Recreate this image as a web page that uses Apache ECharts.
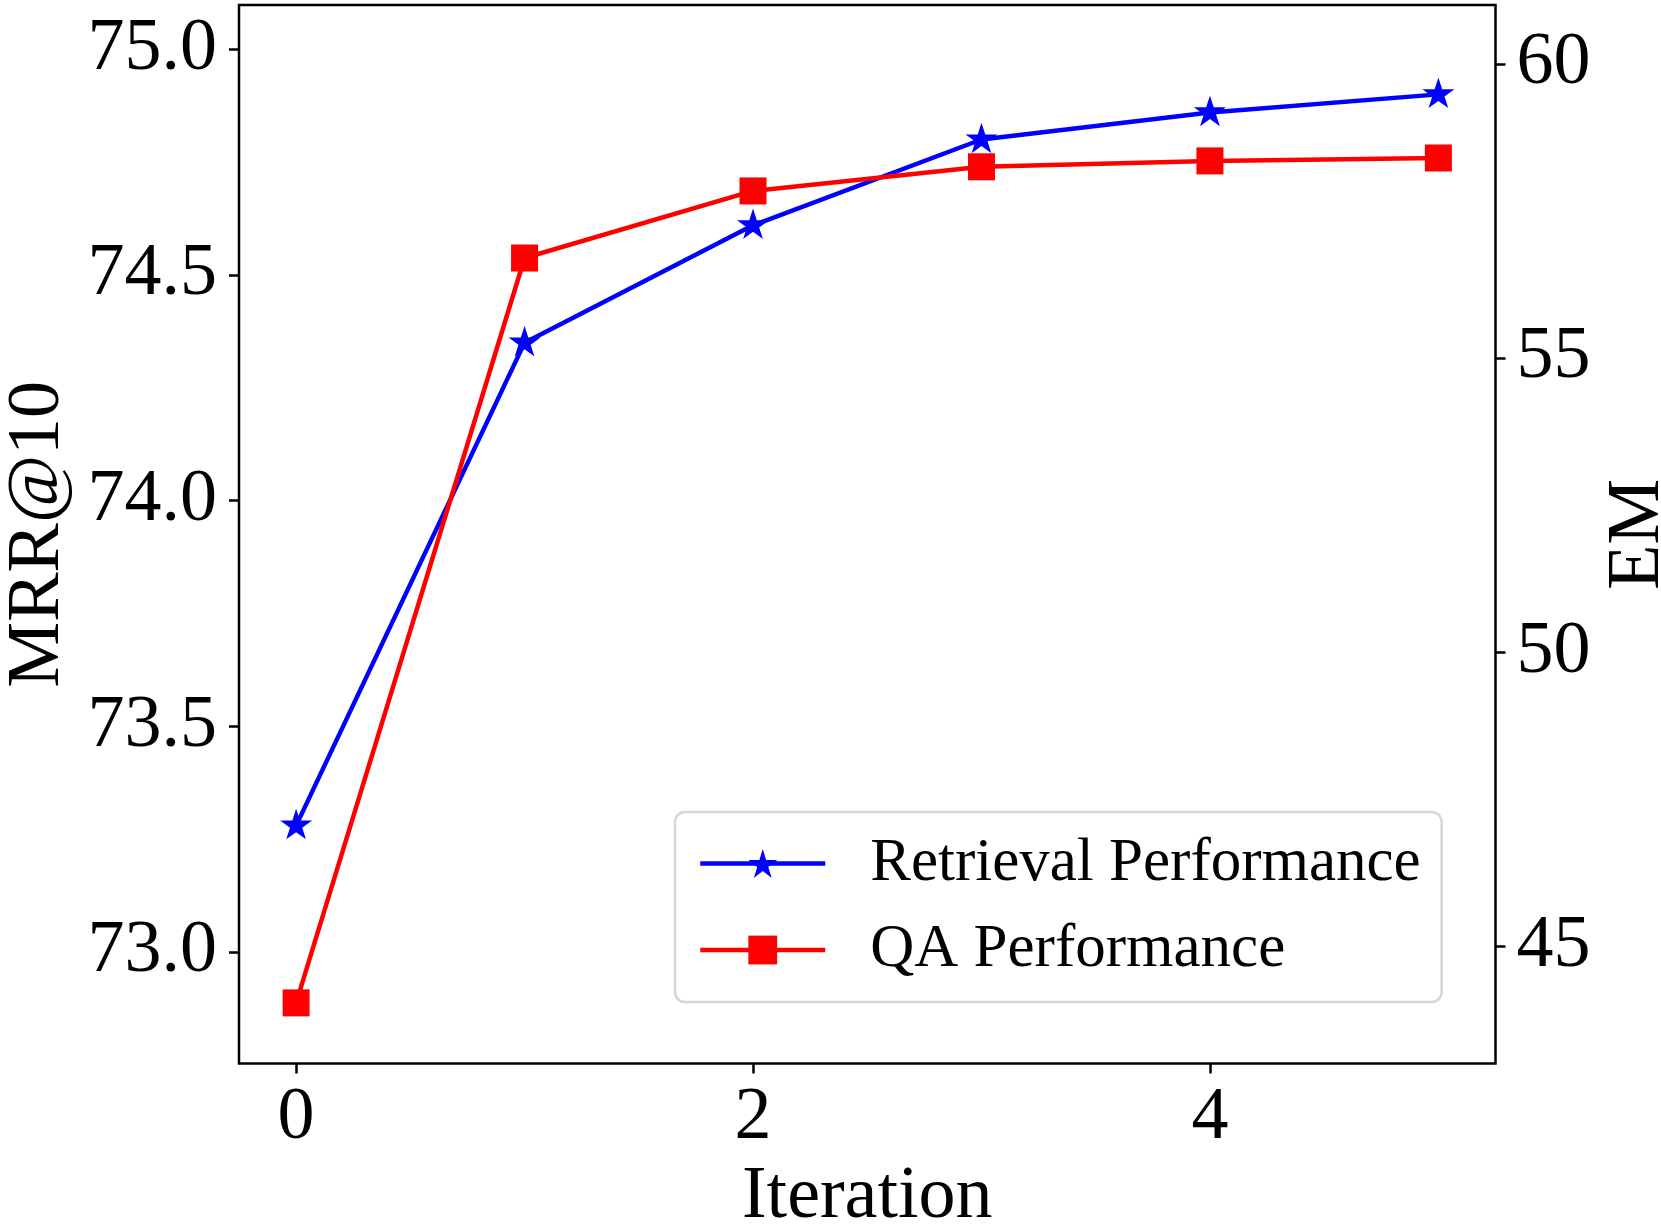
<!DOCTYPE html>
<html>
<head>
<meta charset="utf-8">
<script src="https://cdn.jsdelivr.net/npm/echarts@6/dist/echarts.min.js"></script>
<style>
  html, body { margin: 0; padding: 0; background: #fff; }
  #chart { width: 1661px; height: 1225px; }
</style>
</head>
<body>
<div id="chart"></div>
<script>
// ---- data ----
const iterations = [0, 1, 2, 3, 4, 5];
const retrievalMRR = [73.28, 74.35, 74.61, 74.80, 74.86, 74.90];
const qaEM = [44.04, 56.70, 57.84, 58.25, 58.35, 58.40];
const xTicks = [0, 2, 4];
const leftTicks = [73.0, 73.5, 74.0, 74.5, 75.0];
const rightTicks = [45, 50, 55, 60];
const seriesNames = ['Retrieval Performance', 'QA Performance'];

const FONT = '"Liberation Serif", "Times New Roman", serif';
const starPath = 'path://M100,0 L122.45,69.1 L195.11,69.1 L136.33,111.8 L158.78,180.9 L100,138.2 L41.22,180.9 L63.67,111.8 L4.89,69.1 L77.55,69.1 Z';

const chart = echarts.init(document.getElementById('chart'), null, { renderer: 'canvas' });

const tickStyle = { show: true, length: 10, inside: false, lineStyle: { color: '#000', width: 2.5 } };

const option = {
  animation: false,
  backgroundColor: '#fff',
  grid: {
    left: 239, top: 5, right: 165.5, bottom: 161.5,
    outerBoundsMode: 'none', containLabel: false,
    show: true, borderColor: '#000', borderWidth: 2.5, backgroundColor: 'transparent'
  },
  legend: {
    orient: 'vertical',
    left: 675, top: 812,
    data: seriesNames,
    itemWidth: 125, itemHeight: 36, itemGap: 25.5,
    padding: [21, 21, 21.5, 23],
    backgroundColor: '#fff',
    borderColor: '#d6d6d6', borderWidth: 2.5, borderRadius: 10,
    lineStyle: { width: 4.5 },
    textStyle: { fontFamily: FONT, fontSize: 61, color: '#000', lineHeight: 61, padding: [0, 0, 0, 40] },
    selectedMode: false
  },
  xAxis: {
    type: 'value', min: -0.25, max: 5.25,
    name: 'Iteration', nameLocation: 'middle', nameGap: 96,
    nameTextStyle: { fontFamily: FONT, fontSize: 74, color: '#000' },
    axisLine: { show: false, onZero: false },
    axisTick: Object.assign({ customValues: xTicks }, tickStyle),
    axisLabel: { customValues: xTicks, fontFamily: FONT, fontSize: 74, color: '#000', margin: 18, formatter: v => String(v) },
    splitLine: { show: false }
  },
  yAxis: [
    {
      type: 'value', position: 'left', min: 72.753, max: 75.098,
      name: 'MRR@10', nameLocation: 'middle', nameGap: 163, nameRotate: 90,
      nameTextStyle: { fontFamily: FONT, fontSize: 74, color: '#000' },
      axisLine: { show: false, onZero: false },
      axisTick: Object.assign({ customValues: leftTicks }, tickStyle),
      axisLabel: { customValues: leftTicks, fontFamily: FONT, fontSize: 74, color: '#000', margin: 22, formatter: v => v.toFixed(1) },
      splitLine: { show: false }
    },
    {
      type: 'value', position: 'right', min: 43.01, max: 61.0,
      name: 'EM', nameLocation: 'middle', nameGap: 100, nameRotate: 90,
      nameTextStyle: { fontFamily: FONT, fontSize: 74, color: '#000' },
      axisLine: { show: false, onZero: false },
      axisTick: Object.assign({ customValues: rightTicks }, tickStyle),
      axisLabel: { customValues: rightTicks, fontFamily: FONT, fontSize: 74, color: '#000', margin: 21, formatter: v => String(v) },
      splitLine: { show: false }
    }
  ],
  series: [
    {
      name: seriesNames[0], type: 'line', yAxisIndex: 0,
      data: iterations.map((x, i) => [x, retrievalMRR[i]]),
      symbol: starPath, symbolSize: [32, 30.5], symbolOffset: [0, -1.5],
      showSymbol: true,
      lineStyle: { color: '#0000ff', width: 4.5 },
      itemStyle: { color: '#0000ff', borderWidth: 0 },
      emphasis: { disabled: true }
    },
    {
      name: seriesNames[1], type: 'line', yAxisIndex: 1,
      data: iterations.map((x, i) => [x, qaEM[i]]),
      symbol: 'rect', symbolSize: 27,
      showSymbol: true,
      lineStyle: { color: '#ff0000', width: 4.5 },
      itemStyle: { color: '#ff0000', borderWidth: 0 },
      emphasis: { disabled: true }
    }
  ]
};

chart.setOption(option);
</script>
</body>
</html>
